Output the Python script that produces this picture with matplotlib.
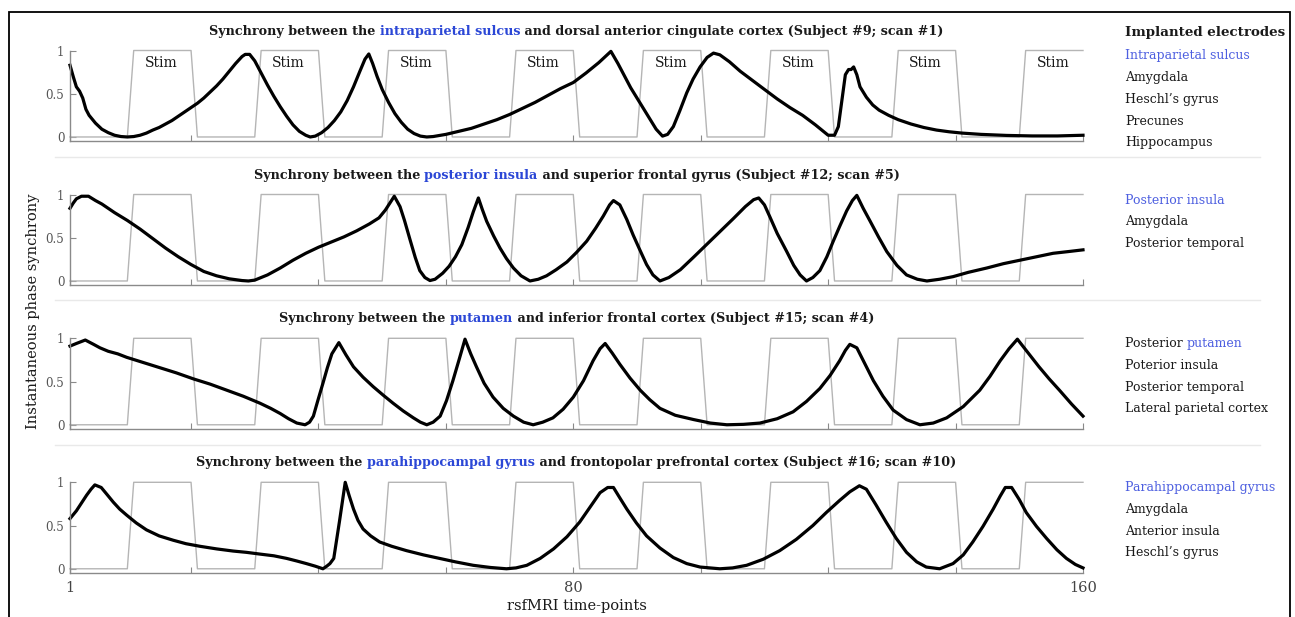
import numpy as np
import matplotlib
matplotlib.use("Agg")
import matplotlib.pyplot as plt
from matplotlib.patches import Rectangle
from matplotlib.lines import Line2D

plt.rcParams['font.family'] = ['DejaVu Serif']

# stimulation design (boxcar, 10 time-points on / 10 off)
n_tp = 160
stim_onsets = [11, 31, 51, 71, 91, 111, 131, 151]
stim_len = 10

# instantaneous phase synchrony (time-point, value)
t1 = [1, 1.5, 2, 2.5, 3, 3.5, 4, 5, 6, 7, 8, 9, 10, 11, 12, 13, 14, 15, 16, 17, 18, 19, 20,
      21, 22, 23, 24, 25, 26, 27, 28, 28.5, 29.2, 30, 31, 32, 33, 34, 35, 36, 37, 38, 38.7,
      39.5, 40.5, 41.5, 42.5, 43.5, 44.5, 45.5, 46.5, 47.3, 47.9, 48.5, 49.2, 50, 51, 52, 53,
      54, 55, 56, 57, 58, 60, 62, 64, 66, 68, 70, 72, 74, 76, 78, 80, 82, 84, 85.9, 87, 88,
      89, 90, 91, 92, 93, 94, 94.8, 95.7, 96.7, 97.8, 98.8, 99.9, 101, 102, 103, 104.5, 106.2,
      108, 110, 112, 114, 116, 118, 120, 121, 121.6, 122.2, 122.7, 123.2, 123.6, 124, 124.5,
      125, 126, 127, 128, 129.5, 131, 133, 135, 137, 139, 141, 144, 148, 152, 156, 160]
s1 = [0.83, 0.70, 0.58, 0.53, 0.45, 0.32, 0.25, 0.16, 0.09, 0.05, 0.02, 0.005, 0.0, 0.005,
      0.02, 0.045, 0.08, 0.11, 0.15, 0.19, 0.24, 0.29, 0.34, 0.39, 0.45, 0.52, 0.59, 0.67,
      0.76, 0.85, 0.93, 0.955, 0.955, 0.88, 0.74, 0.60, 0.47, 0.35, 0.24, 0.14, 0.065, 0.02,
      0.0, 0.01, 0.05, 0.11, 0.19, 0.29, 0.42, 0.58, 0.76, 0.90, 0.96, 0.85, 0.70, 0.55, 0.40,
      0.27, 0.17, 0.09, 0.04, 0.01, 0.0, 0.005, 0.03, 0.065, 0.10, 0.15, 0.20, 0.26, 0.33,
      0.40, 0.48, 0.56, 0.63, 0.74, 0.86, 0.99, 0.85, 0.71, 0.57, 0.45, 0.33, 0.21, 0.09,
      0.01, 0.03, 0.12, 0.30, 0.51, 0.67, 0.81, 0.92, 0.97, 0.95, 0.87, 0.76, 0.66, 0.55,
      0.44, 0.34, 0.25, 0.14, 0.02, 0.02, 0.12, 0.45, 0.72, 0.78, 0.78, 0.81, 0.72, 0.58,
      0.46, 0.37, 0.31, 0.25, 0.20, 0.15, 0.11, 0.08, 0.06, 0.045, 0.03, 0.018, 0.012, 0.012,
      0.02]

t2 = [1, 1.5, 2, 2.8, 3.9, 5, 6, 8, 10, 12, 14, 16, 18, 20, 22, 24, 26, 28, 29, 30, 32, 34,
      36, 38, 40, 42, 44, 46, 48, 49.5, 50.5, 51.9, 52.8, 53.5, 54.4, 55.2, 55.9, 56.7, 57.5,
      58.3, 59.5, 60.5, 61.5, 62.5, 63.5, 64.3, 65.1, 65.7, 66.4, 67.5, 68.5, 69.5, 70.6,
      71.8, 73.2, 74.5, 75.8, 77.3, 79, 80.5, 82.1, 83.5, 84.7, 85.7, 86.3, 87.3, 88.4, 89.4,
      90.5, 91.5, 92.5, 93.6, 95, 96.8, 98.8, 100.9, 103, 105.1, 107, 108.3, 109.1, 110,
      110.8, 112, 113.5, 114.6, 115.6, 116.6, 117.6, 118.7, 119.8, 120.8, 121.8, 122.9, 123.8,
      124.5, 125.5, 126.6, 127.9, 129.2, 130.8, 132.3, 134, 135.5, 137.5, 139.6, 142, 144.9,
      147.5, 150.1, 152.7, 155.3, 157.7, 160]
s2 = [0.84, 0.90, 0.95, 0.98, 0.98, 0.93, 0.89, 0.79, 0.70, 0.60, 0.49, 0.38, 0.28, 0.19,
      0.11, 0.06, 0.025, 0.005, 0.0, 0.01, 0.07, 0.15, 0.24, 0.32, 0.39, 0.45, 0.51, 0.58,
      0.66, 0.73, 0.82, 0.98, 0.86, 0.70, 0.47, 0.27, 0.12, 0.04, 0.005, 0.02, 0.09, 0.17,
      0.28, 0.42, 0.62, 0.80, 0.96, 0.83, 0.69, 0.52, 0.38, 0.26, 0.15, 0.06, 0.0, 0.02, 0.06,
      0.13, 0.22, 0.33, 0.46, 0.61, 0.75, 0.88, 0.93, 0.88, 0.71, 0.53, 0.35, 0.19, 0.07, 0.0,
      0.04, 0.13, 0.27, 0.42, 0.57, 0.72, 0.86, 0.94, 0.96, 0.88, 0.75, 0.55, 0.34, 0.18,
      0.07, 0.0, 0.04, 0.12, 0.28, 0.46, 0.63, 0.81, 0.93, 0.99, 0.84, 0.69, 0.51, 0.34,
      0.18, 0.07, 0.02, 0.0, 0.02, 0.05, 0.10, 0.15, 0.20, 0.24, 0.28, 0.32, 0.34, 0.36]

t3 = [1, 2, 3.4, 4.7, 5.7, 7, 8.5, 9.9, 12.5, 15.1, 17.7, 20.4, 23, 25.6, 28.2, 30.8, 32.5,
      34, 35.3, 36.6, 37.9, 38.6, 39.2, 39.9, 40.7, 41.4, 42.1, 43.2, 44.3, 45.5, 47, 48.6,
      50.2, 51.7, 53.3, 54.9, 56, 57, 58, 59.1, 60.1, 61.1, 62.1, 63, 63.9, 64.8, 66, 67.4,
      69, 70.6, 72.2, 73.7, 75.2, 76.8, 78.4, 80, 81.6, 83.1, 84.2, 85, 86.1, 87.3, 88.9,
      90.5, 92, 93.6, 96, 98.9, 101.5, 104.1, 106.7, 109.3, 112, 114.5, 116.6, 118.7, 120.3,
      121.8, 122.7, 123.4, 124.5, 125.8, 127.1, 128.6, 130.2, 132.3, 134.4, 136.5, 138.6,
      141.2, 143.8, 145.4, 147, 148.4, 149.7, 151.4, 153.1, 154.7, 156.3, 158.2, 160]
s3 = [0.91, 0.94, 0.98, 0.93, 0.89, 0.85, 0.82, 0.78, 0.72, 0.66, 0.60, 0.53, 0.47, 0.40,
      0.33, 0.25, 0.19, 0.13, 0.07, 0.02, 0.0, 0.03, 0.10, 0.28, 0.48, 0.66, 0.82, 0.95, 0.81,
      0.67, 0.55, 0.44, 0.34, 0.25, 0.16, 0.08, 0.03, 0.0, 0.03, 0.10, 0.28, 0.51, 0.76, 0.99,
      0.82, 0.67, 0.48, 0.32, 0.19, 0.10, 0.03, 0.0, 0.03, 0.08, 0.18, 0.32, 0.51, 0.74, 0.88,
      0.94, 0.83, 0.70, 0.54, 0.40, 0.29, 0.19, 0.11, 0.06, 0.02, 0.0, 0.005, 0.02, 0.07,
      0.15, 0.27, 0.42, 0.57, 0.74, 0.86, 0.93, 0.89, 0.70, 0.51, 0.33, 0.17, 0.06, 0.0, 0.02,
      0.08, 0.21, 0.40, 0.56, 0.74, 0.88, 0.99, 0.83, 0.67, 0.53, 0.40, 0.24, 0.10]

t4 = [1, 2, 2.8, 3.6, 4.3, 4.9, 5.9, 6.8, 7.8, 8.8, 9.9, 11.4, 13, 15, 17.2, 19.2, 21.4, 24,
      26.6, 28.7, 30.8, 33, 35, 36.6, 38.1, 39.5, 40.7, 41.3, 41.8, 42.4, 43.3, 44.2, 44.8,
      45.5, 46.2, 47, 48.2, 49.6, 51.5, 53.8, 56.5, 59, 61.5, 64.3, 67, 69.5, 71, 72.7, 74.8,
      76.9, 79, 81, 82.6, 84.2, 85.4, 86.3, 87.3, 88.4, 89.9, 91.5, 93.6, 95.7, 97.8, 99.9,
      103, 105, 107.2, 109.8, 112.4, 115, 117.6, 119.7, 121.8, 123.4, 124.9, 126, 127.5,
      129.1, 130.7, 132.3, 133.9, 135.4, 137.5, 139.6, 141.2, 142.7, 144.3, 145.9, 147, 147.8,
      148.8, 150, 151.1, 152.7, 154.3, 155.9, 157.4, 158.8, 160]
s4 = [0.58, 0.67, 0.76, 0.85, 0.92, 0.97, 0.94, 0.86, 0.77, 0.69, 0.62, 0.53, 0.45, 0.38,
      0.33, 0.29, 0.26, 0.23, 0.205, 0.19, 0.17, 0.15, 0.12, 0.09, 0.06, 0.03, 0.0, 0.03,
      0.06, 0.12, 0.55, 1.0, 0.85, 0.69, 0.56, 0.46, 0.38, 0.31, 0.26, 0.21, 0.16, 0.12, 0.08,
      0.04, 0.015, 0.0, 0.01, 0.04, 0.12, 0.23, 0.37, 0.54, 0.71, 0.88, 0.94, 0.94, 0.82,
      0.69, 0.53, 0.38, 0.24, 0.13, 0.06, 0.02, 0.0, 0.01, 0.04, 0.11, 0.21, 0.34, 0.50,
      0.65, 0.79, 0.89, 0.96, 0.92, 0.74, 0.54, 0.35, 0.19, 0.08, 0.02, 0.0, 0.06, 0.16,
      0.31, 0.49, 0.69, 0.84, 0.94, 0.94, 0.80, 0.65, 0.49, 0.35, 0.22, 0.12, 0.05, 0.01]

times = [t1, t2, t3, t4]
series = [s1, s2, s3, s4]

titles = [
    [("Synchrony between the ", "k"), ("intraparietal sulcus", "blue"),
     (" and dorsal anterior cingulate cortex (Subject #9; scan #1)", "k")],
    [("Synchrony between the ", "k"), ("posterior insula", "blue"),
     (" and superior frontal gyrus (Subject #12; scan #5)", "k")],
    [("Synchrony between the ", "k"), ("putamen", "blue"),
     (" and inferior frontal cortex (Subject #15; scan #4)", "k")],
    [("Synchrony between the ", "k"), ("parahippocampal gyrus", "blue"),
     (" and frontopolar prefrontal cortex (Subject #16; scan #10)", "k")],
]

electrodes = [
    [[("Intraparietal sulcus", "lblue")], [("Amygdala", "k")], [("Heschl\u2019s gyrus", "k")],
     [("Precunes", "k")], [("Hippocampus", "k")]],
    [[("Posterior insula", "lblue")], [("Amygdala", "k")], [("Posterior temporal", "k")]],
    [[("Posterior ", "k"), ("putamen", "lblue")], [("Poterior insula", "k")],
     [("Posterior temporal", "k")], [("Lateral parietal cortex", "k")]],
    [[("Parahippocampal gyrus", "lblue")], [("Amygdala", "k")], [("Anterior insula", "k")],
     [("Heschl\u2019s gyrus", "k")]],
]

colors = {"k": "#1a1a1a", "blue": "#2b47d6", "lblue": "#4d5fe0"}

W, H = 1295, 617
fig = plt.figure(figsize=(W / 100, H / 100), dpi=100)

# outer frame and panel separators
fig.patches.append(Rectangle((9 / W, -0.05), (1290 - 9) / W, 1.05 - 11.5 / H,
                             transform=fig.transFigure, fill=False, ec="k", lw=1.3))
for ypx in [157, 300, 445]:
    fig.add_artist(Line2D([55 / W, 1260 / W], [1 - ypx / H] * 2, color="#e9e9e9", lw=1))

ax_left, ax_right = 70, 1083
tops = [50.5, 194.5, 338.3, 482.3]
ax_h = 90.8


def chain_text(x, y, parts, fs, weight, transform):
    """Draw consecutive differently-coloured pieces of text on one line."""
    arts = []
    for i, (s, c) in enumerate(parts):
        if i == 0:
            a = plt.text(x, y, s, color=colors[c], fontsize=fs, fontweight=weight,
                         ha="left", va="bottom", transform=transform)
        else:
            a = plt.annotate(s, xy=(1, 0), xycoords=arts[-1], color=colors[c], fontsize=fs,
                             fontweight=weight, ha="left", va="bottom", annotation_clip=False)
        arts.append(a)
    return arts


title_arts = []
for k in range(4):
    bottom = tops[k] + ax_h
    ax = fig.add_axes([ax_left / W, 1 - bottom / H, (ax_right - ax_left) / W, ax_h / H])
    plt.sca(ax)

    tp = np.arange(1, n_tp + 1)
    stim = np.zeros(n_tp)
    for on in stim_onsets:
        stim[on - 1:on - 1 + stim_len] = 1
    ax.plot(tp, stim, color="#b5b5b5", lw=1.0, clip_on=False)
    ax.plot(times[k], series[k], color="k", lw=2.3, clip_on=False, solid_joinstyle="round")

    if k == 0:
        for on in stim_onsets:
            ax.text(on + 4.3, 0.86, "Stim", ha="center", va="center", fontsize=10,
                    color="#1a1a1a")

    ax.set_xlim(1, n_tp)
    ax.set_ylim(-0.05, 1)
    for side in ["top", "right"]:
        ax.spines[side].set_visible(False)
    for side in ["left", "bottom"]:
        ax.spines[side].set_color("#8a8a8a")
        ax.spines[side].set_linewidth(1.0)
    ax.set_yticks([0, 0.5, 1])
    ax.set_yticklabels(["0", "0.5", "1"])
    ax.set_xticks([1, 20, 40, 60, 80, 100, 120, 140, 160])
    if k == 3:
        ax.set_xticklabels(["1", "", "", "", "80", "", "", "", "160"])
    else:
        ax.set_xticklabels([])
    ax.tick_params(axis="both", direction="in", length=4, color="#8a8a8a")
    ax.tick_params(axis="y", labelsize=8.5, labelcolor="#555555", pad=4)
    ax.tick_params(axis="x", labelsize=10.5, labelcolor="#444444", pad=6)

    # title in pieces so the region name can be blue
    arts = chain_text(0.5, 1 + 13 / ax_h, titles[k], 9.2, "bold", ax.transAxes)
    title_arts.append((ax, arts))

    # list of implanted electrodes
    for j, item in enumerate(electrodes[k]):
        ycen = tops[k] + 5 + j * 21.7
        chain_text(1125 / W, 1 - (ycen + 7) / H, item, 9, "normal", fig.transFigure)

chain_text(1125 / W, 1 - (31 + 8) / H, [("Implanted electrodes", "k")], 9.6, "bold",
           fig.transFigure)

fig.text(33 / W, 1 - 311 / H, "Instantaneous phase synchrony", rotation=90, ha="center",
         va="center", fontsize=10.5, color="#1a1a1a")
fig.text((ax_left + ax_right) / 2 / W, 1 - 606 / H, "rsfMRI time-points", ha="center",
         va="center", fontsize=10.5, color="#1a1a1a")

# centre the multi-coloured titles over their axes
fig.canvas.draw()
r = fig.canvas.get_renderer()
for ax, arts in title_arts:
    total = sum(a.get_window_extent(r).width for a in arts)
    axw = ax.get_window_extent(r).width
    x0, y0 = arts[0].get_position()
    arts[0].set_position((0.5 - total / 2 / axw, y0))

fig.savefig("out.png", dpi=100)
